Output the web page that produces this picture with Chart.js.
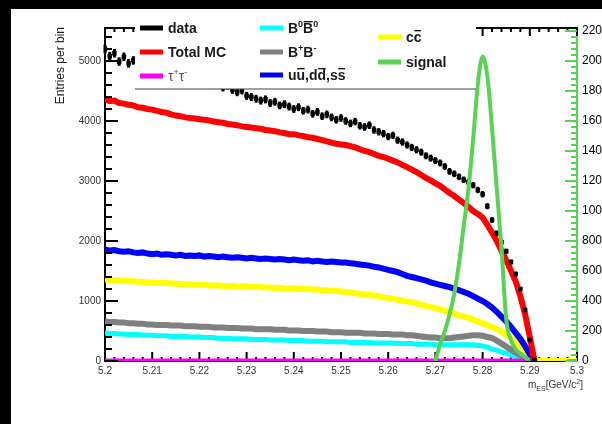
<!DOCTYPE html>
<html><head><meta charset="utf-8">
<script src="https://cdn.jsdelivr.net/npm/chart.js@4.4.1/dist/chart.umd.min.js"></script>
<style>html,body{margin:0;padding:0;background:#000;overflow:hidden}canvas{display:block}</style>
</head><body>
<canvas id="c" width="602" height="424"></canvas>
<script>
// ---- data (bin positions in GeV/c^2) ----
const mES = [5.200,5.201,5.202,5.203,5.204,5.205,5.206,5.207,5.208,5.209,
 5.210,5.211,5.212,5.213,5.214,5.215,5.216,5.217,5.218,5.219,
 5.220,5.221,5.222,5.223,5.224,5.225,5.226,5.227,5.228,5.229,
 5.230,5.231,5.232,5.233,5.234,5.235,5.236,5.237,5.238,5.239,
 5.240,5.241,5.242,5.243,5.244,5.245,5.246,5.247,5.248,5.249,
 5.250,5.251,5.252,5.253,5.254,5.255,5.256,5.257,5.258,5.259,
 5.260,5.261,5.262,5.263,5.264,5.265,5.266,5.267,5.268,5.269,
 5.270,5.271,5.272,5.273,5.274,5.275,5.276,5.277,5.278,5.279,
 5.280,5.281,5.282,5.283,5.284,5.285,5.286,5.287,5.288,5.289,
 5.290,5.291,5.292,5.293,5.294,5.295,5.296,5.297,5.298,5.299,5.300];

const dataCounts = [5200,5080,5130,4990,5070,4960,5010,4930,4880,4950,
 4860,4830,4870,4790,4810,4750,4770,4700,4720,4680,
 4650,4690,4620,4600,4640,4560,4590,4520,4480,4510,
 4420,4400,4370,4340,4360,4300,4320,4260,4280,4240,
 4200,4230,4170,4190,4120,4150,4080,4110,4060,4020,
 4050,4000,3960,3990,3920,3900,3930,3850,3820,3790,
 3740,3760,3680,3650,3600,3560,3520,3480,3420,3380,
 3340,3300,3240,3160,3120,3070,3020,2980,2930,2850,
 2780,2580,2350,2130,1980,1830,1650,1450,1200,850,
 350,20,null,null,null,null,null,null,null,null,null];

const totalMC = [4360,4330,4340,4300,4290,4270,4260,4230,4220,4200,
 4190,4170,4150,4140,4110,4090,4080,4060,4050,4040,
 4030,4020,4010,3990,3980,3970,3950,3940,3930,3910,
 3900,3890,3880,3870,3850,3840,3830,3810,3800,3780,
 3780,3760,3750,3730,3720,3700,3680,3660,3640,3620,
 3610,3600,3580,3560,3530,3500,3480,3450,3420,3400,
 3370,3340,3310,3270,3230,3190,3150,3100,3050,3010,
 2960,2920,2860,2800,2750,2690,2630,2570,2500,2450,
 2390,2270,2140,2000,1840,1680,1510,1330,1080,780,
 400,0,null,null,null,null,null,null,null,null,null];

const tautau = [0,0,0,0,0,0,0,0,0,0, 0,0,0,0,0,0,0,0,0,0, 0,0,0,0,0,0,0,0,0,0,
 0,0,0,0,0,0,0,0,0,0, 0,0,0,0,0,0,0,0,0,0, 0,0,0,0,0,0,0,0,0,0,
 0,0,0,0,0,0,0,0,0,0, 0,0,0,0,0,0,0,0,0,0, 0,0,0,0,0,0,0,0,0,0,
 0,null,null,null,null,null,null,null,null,null,null];

const b0b0bar = [470,460,460,450,450,440,440,440,430,430,
 430,420,420,420,410,410,410,410,400,400,
 400,390,390,390,380,380,380,370,370,370,
 370,360,360,360,360,350,350,350,350,340,
 340,340,340,330,330,330,330,320,320,320,
 320,320,310,310,310,310,310,300,300,300,
 300,300,290,290,290,290,280,280,280,280,
 270,270,270,270,270,270,270,270,270,260,
 250,230,200,180,150,130,100,80,50,30,
 10,0,null,null,null,null,null,null,null,null,null];

const bpbm = [660,650,650,640,640,630,630,620,620,610,
 610,600,600,600,590,590,590,580,580,580,
 570,570,570,560,560,560,550,550,550,540,
 540,540,530,530,530,530,520,520,520,510,
 510,510,500,500,500,490,490,490,480,480,
 480,470,470,470,470,460,460,460,450,450,
 450,440,440,440,430,430,420,410,400,390,
 390,380,380,380,390,400,410,420,430,430,
 420,400,380,340,290,240,190,140,100,60,
 20,0,null,null,null,null,null,null,null,null,null];

const udsCont = [1860,1840,1850,1830,1820,1830,1810,1800,1810,1790,
 1780,1790,1770,1780,1770,1760,1770,1750,1760,1750,
 1760,1740,1750,1740,1730,1740,1730,1720,1730,1720,
 1710,1720,1710,1700,1710,1700,1690,1700,1690,1680,
 1690,1680,1670,1680,1660,1670,1660,1650,1660,1650,
 1640,1640,1630,1620,1610,1600,1590,1570,1560,1540,
 1520,1500,1480,1450,1420,1400,1380,1360,1340,1310,
 1290,1270,1250,1230,1200,1180,1150,1120,1080,1040,
 1000,950,890,820,740,660,570,470,370,250,
 110,0,null,null,null,null,null,null,null,null,null];

const ccCont = [1360,1350,1350,1340,1340,1330,1330,1320,1320,1310,
 1310,1300,1300,1300,1290,1290,1280,1280,1280,1270,
 1270,1270,1260,1260,1260,1250,1250,1250,1240,1240,
 1240,1230,1240,1230,1230,1220,1220,1220,1210,1210,
 1210,1200,1200,1200,1190,1190,1180,1180,1170,1170,
 1160,1150,1140,1130,1120,1110,1100,1090,1080,1060,
 1050,1040,1020,1010,990,980,960,940,920,900,
 880,860,840,810,790,760,740,720,690,660,
 630,600,570,530,490,440,390,320,250,170,
 90,20,0,0,0,0,0,0,0,0,0];

// signal (right axis)
const sigMass = [5.270,5.271,5.272,5.273,5.274,5.275,5.276,5.277,5.278,5.279,
 5.280,5.281,5.282,5.283,5.284,5.285,5.286,5.287,5.288,5.289,5.290,5.291,5.298,5.299,5.300];
const sigVals = [0,110,200,310,450,650,900,1150,1480,1850,
 2030,1900,1550,1150,750,280,140,80,50,25,5,null,0,0,0];

// ---- axes ----
const leftTicks = [0,1000,2000,3000,4000,5000];
const rightTicks = [0,200,400,600,800,1000,1200,1400,1600,1800,2000,2200];
const xTickLabels = ['5.2','5.21','5.22','5.23','5.24','5.25','5.26','5.27','5.28','5.29','5.3'];
const yTitle = 'Entries per bin';

const FONT = '"Liberation Sans", Arial, sans-serif';
const GREEN = '#5ad256';

const pts = arr => mES.map((x,i)=>({x:x, y:arr[i]}));

function rich(ctx, x, y, parts, size, weight, color){
  let cx = x;
  ctx.fillStyle = color; ctx.textBaseline = 'alphabetic'; ctx.textAlign = 'left';
  for (const p of parts){
    const small = p.sup || p.sub;
    const fs = small ? Math.round(size*0.65) : size;
    ctx.font = weight + ' ' + fs + 'px ' + FONT;
    const dy = p.sup ? -size*0.42 : (p.sub ? size*0.3 : 0);
    ctx.fillText(p.t, cx, y + dy);
    const w = ctx.measureText(p.t).width;
    if (p.bar) ctx.fillRect(cx + 0.5, y - size*0.86, w - 1, Math.max(1.2, size*0.1));
    cx += w;
  }
}

const legendItems = [
  {color:'#000000', col:0, row:0, w:'bold', parts:[{t:'data'}]},
  {color:'#ff0000', col:0, row:1, w:'bold', parts:[{t:'Total MC'}]},
  {color:'#ff00ff', col:0, row:2, w:'normal', tc:'#555', parts:[{t:'τ'},{t:'+',sup:1},{t:'τ'},{t:'-',sup:1}]},
  {color:'#00ffff', col:1, row:0, w:'bold', parts:[{t:'B'},{t:'0',sup:1},{t:'B',bar:1},{t:'0',sup:1}]},
  {color:'#808080', col:1, row:1, w:'bold', parts:[{t:'B'},{t:'+',sup:1},{t:'B'},{t:'-',sup:1}]},
  {color:'#0000ff', col:1, row:2, w:'bold', parts:[{t:'u'},{t:'u',bar:1},{t:',d'},{t:'d',bar:1},{t:',s'},{t:'s',bar:1}]},
  {color:'#ffff00', col:2, row:0, w:'bold', parts:[{t:'c'},{t:'c',bar:1}]},
  {color:GREEN,     col:2, row:1, w:'bold', parts:[{t:'signal'}]}
];

const custom = {
  id:'custom',
  beforeDraw(chart){
    const c = chart.ctx; c.save();
    c.fillStyle = '#000'; c.fillRect(0,0,602,424);
    c.fillStyle = '#fff'; c.fillRect(11,9,591,415);
    c.restore();
  },
  beforeDatasetsDraw(chart){
    const c = chart.ctx, xs = chart.scales.x, a = chart.chartArea;
    c.save(); c.strokeStyle = '#000'; c.lineWidth = 2;
    for (let i = 0; i <= 50; i++){
      const x = xs.getPixelForValue(5.2 + i*0.002);
      const len = (i % 5 === 0) ? 9 : 4;
      c.beginPath(); c.moveTo(x, a.bottom); c.lineTo(x, a.bottom - len); c.stroke();
    }
    c.restore();
  },
  afterDatasetDraw(chart, args){
    if (args.index !== 1) return;
    const c = chart.ctx, xs = chart.scales.x, ys = chart.scales.y;
    c.save(); c.strokeStyle = '#000'; c.lineWidth = 3;
    dataCounts.forEach((v,i)=>{
      if (v === null || v <= 0) return;
      const x = xs.getPixelForValue(mES[i]);
      const e = Math.sqrt(v);
      c.beginPath(); c.moveTo(x, ys.getPixelForValue(v+e)); c.lineTo(x, ys.getPixelForValue(v-e)); c.stroke();
    });
    c.restore();
  },
  afterDatasetsDraw(chart){
    const c = chart.ctx, xs = chart.scales.x, ys = chart.scales.y, y2 = chart.scales.y2, a = chart.chartArea;
    c.save();
    c.strokeStyle = '#000'; c.lineWidth = 2;
    for (let v = 0; v <= 5400; v += 200){
      const y = ys.getPixelForValue(v);
      const len = (v % 1000 === 0) ? 13 : 7;
      c.beginPath(); c.moveTo(a.left, y); c.lineTo(a.left + len, y); c.stroke();
    }
    c.beginPath(); c.moveTo(a.left - 1, a.top); c.lineTo(a.right + 1, a.top); c.stroke();
    for (let i = 0; i <= 50; i++){
      const x = xs.getPixelForValue(5.2 + i*0.002);
      const len = (i % 5 === 0) ? 8 : 4;
      c.beginPath(); c.moveTo(x, a.top); c.lineTo(x, a.top + len); c.stroke();
    }
    c.strokeStyle = GREEN;
    for (let v = 0; v <= 2200; v += 40){
      const y = y2.getPixelForValue(v);
      const len = (v % 200 === 0) ? 12 : 6;
      c.beginPath(); c.moveTo(a.right, y); c.lineTo(a.right - len, y); c.stroke();
    }
    c.restore();
  },
  afterDraw(chart){
    const c = chart.ctx;
    c.save();
    c.fillStyle = '#fff'; c.fillRect(135, 9, 341, 80);
    c.fillStyle = '#444'; c.fillRect(135, 88.5, 341, 1);
    const colX = [140, 260, 378];
    const rowY = [[28,52,76],[28,52,75],[37,62]];
    legendItems.forEach(it=>{
      const x = colX[it.col], y = rowY[it.col][it.row];
      c.strokeStyle = it.color; c.lineWidth = 5;
      c.beginPath(); c.moveTo(x, y); c.lineTo(x + 23, y); c.stroke();
      rich(c, x + 28, y + 5, it.parts, 14, it.w, it.tc || '#1a1a1a');
    });
    c.translate(61, 27); c.rotate(-Math.PI/2);
    c.font = '12px ' + FONT; c.fillStyle = '#222'; c.textAlign = 'right'; c.textBaseline = 'middle';
    c.fillText(yTitle, 0, 0);
    c.setTransform(1,0,0,1,0,0);
    rich(c, 528, 388, [{t:'m'},{t:'ES',sub:1},{t:'[GeV/c'},{t:'2',sup:1},{t:']'}], 10, 'normal', '#333');
    c.restore();
  }
};

const lineDs = (label, arr, color, w) => ({
  label, data: pts(arr), borderColor: color, backgroundColor: color, borderWidth: w,
  pointRadius: 0, fill: false, spanGaps: false, yAxisID: 'y', borderJoinStyle: 'miter'
});

new Chart(document.getElementById('c'), {
  type: 'line',
  data: {
    datasets: [
      { label: 'signal', data: sigMass.map((x,i)=>({x:x, y:sigVals[i]})), borderColor: GREEN, borderWidth: 4,
        pointRadius: 0, cubicInterpolationMode: 'monotone', fill: false, spanGaps: false, yAxisID: 'y2' },
      { label: 'data', data: pts(dataCounts), showLine: false, pointStyle: 'rect', pointRadius: 3.2,
        pointBorderWidth: 0, pointBackgroundColor: '#000', borderColor: '#000', yAxisID: 'y' },
      lineDs('τ+τ-', tautau, '#ff00ff', 5),
      lineDs('Total MC', totalMC, '#ff0000', 6),
      lineDs('uu,dd,ss', udsCont, '#0000ff', 6),
      lineDs('cc', ccCont, '#ffff00', 6),
      lineDs('B+B-', bpbm, '#808080', 6),
      lineDs('B0B0bar', b0b0bar, '#00ffff', 5)
    ]
  },
  options: {
    responsive: false, animation: false, devicePixelRatio: 1,
    layout: { padding: { top: 28, left: 0, right: 0, bottom: 0 } },
    plugins: { legend: { display: false }, tooltip: { enabled: false } },
    scales: {
      x: {
        type: 'linear', min: 5.2, max: 5.3,
        afterBuildTicks: s => { s.ticks = xTickLabels.map((t,i)=>({value: 5.2 + i*0.01})); },
        ticks: { callback: (v,i)=>xTickLabels[i], font: { size: 10, family: FONT }, color: '#333', padding: 4, maxRotation: 0, autoSkip: false },
        grid: { display: true, drawOnChartArea: false, drawTicks: false },
        border: { display: true, color: '#000', width: 2 },
        afterFit: s => { s.height = 63; }
      },
      y: {
        position: 'left', min: 0, max: 5550,
        afterBuildTicks: s => { s.ticks = leftTicks.map(v=>({value:v})); },
        ticks: { font: { size: 10, family: FONT }, color: '#333', padding: 4, callback: v => String(v) },
        grid: { display: true, drawOnChartArea: false, drawTicks: false },
        border: { display: true, color: '#000', width: 2 },
        afterFit: s => { s.width = 105; }
      },
      y2: {
        position: 'right', min: 0, max: 2220,
        afterBuildTicks: s => { s.ticks = rightTicks.map(v=>({value:v})); },
        ticks: { font: { size: 12, family: FONT }, color: '#000', padding: 5, callback: v => String(v) },
        grid: { display: true, drawOnChartArea: false, drawTicks: false },
        border: { display: true, color: GREEN, width: 2 },
        afterFit: s => { s.width = 25; }
      }
    }
  },
  plugins: [custom]
});
</script>
</body></html>
